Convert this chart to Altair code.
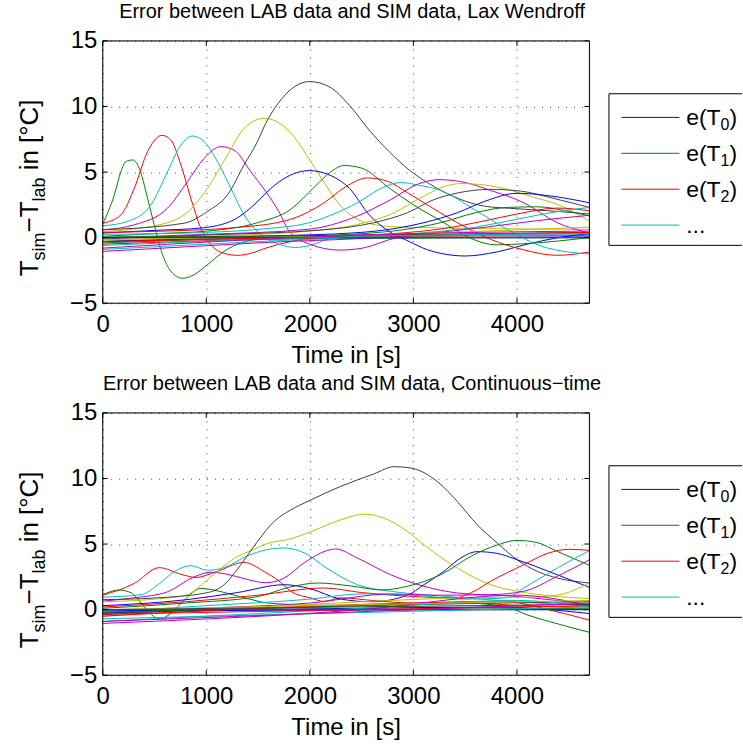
import altair as alt
import pandas as pd

W, H = 488, 263
X_TICKS = [0, 1000, 2000, 3000, 4000]
Y_TICKS = [-5, 0, 5, 10, 15]
X_MAX = 4700
COLORS = ["#0000FF", "#008000", "#FF0000", "#00BFBF", "#BF00BF", "#BFBF00", "#404040"]
FONT = "Liberation Sans"

# ---------------- Lax Wendroff panel: (time, error) knots per sensor ----------------
lw_t00 = [(0, -0.3), (1500, -0.05), (4700, 0.0)]
lw_t01 = [(0, 1.05), (112, 3.26), (176, 5.04), (225, 5.8), (289, 5.92), (353, 5.29), (433, 3.0),
          (497, 0.98), (578, -1.3), (658, -2.57), (771, -3.1), (883, -2.82), (1012, -2.06),
          (1172, -1.05), (1333, -0.4), (1494, -0.15), (2500, -0.05), (4700, 0.0)]
lw_t02 = [(0, 1.1), (176, 1.74), (305, 3.77), (433, 6.56), (572, 7.8), (658, 7.44), (755, 5.54),
          (851, 3.0), (947, 0.73), (1044, -0.54), (1172, -1.2), (1301, -1.35), (1429, -1.2),
          (1574, -0.8), (1816, -0.3), (2100, 0.0), (3000, 0.1), (4700, 0.15)]
lw_t03 = [(0, 0.9), (241, 1.24), (466, 2.5), (626, 5.04), (755, 7.06), (867, 7.75), (980, 7.32),
          (1108, 5.8), (1237, 3.77), (1365, 1.74), (1494, 0.47), (1574, -0.03), (1700, -0.5),
          (1866, -0.75), (2000, -0.6), (2188, -0.1), (2500, 0.1), (4700, 0.2)]
lw_t04 = [(0, 0.6), (305, 0.98), (626, 2.25), (819, 4.28), (980, 6.05), (1140, 6.94), (1268, 6.68),
          (1429, 5.04), (1574, 3.52), (1700, 2.0), (1802, 0.47), (2000, -0.5), (2285, -0.95),
          (2509, -0.8), (2830, -0.03), (3100, 0.2), (4700, 0.3)]
lw_t05 = [(0, 0.47), (466, 0.85), (787, 1.74), (1012, 3.77), (1205, 6.3), (1365, 8.33), (1559, 9.1),
          (1816, 8.0), (1977, 6.2), (2138, 4.2), (2299, 2.4), (2460, 1.4), (2620, 1.0), (2781, 0.84),
          (3100, 0.76), (4700, 0.63)]
lw_t06 = [(0, 0.6), (787, 1.1), (1012, 2.0), (1205, 3.26), (1365, 5.54), (1494, 7.32), (1574, 8.71),
          (1700, 10.3), (1850, 11.5), (1995, 11.9), (2188, 11.5), (2381, 10.1), (2573, 8.2),
          (2766, 6.56), (2959, 5.16), (3135, 4.2), (3428, 3.0), (3685, 2.4), (4006, 2.2),
          (4391, 2.0), (4700, 1.8)]
lw_t07 = [(0, 0.35), (500, 0.55), (947, 0.73), (1268, 1.36), (1461, 2.5), (1574, 3.39), (1750, 4.5),
          (1995, 5.11), (2188, 4.78), (2381, 3.77), (2573, 1.74), (2766, 0.47), (2959, -0.29),
          (3135, -0.92), (3504, -1.4), (3800, -1.1), (4100, -0.5), (4400, 0.0), (4700, 0.3)]
lw_t08 = [(0, 0.1), (500, 0.3), (1013, 0.5), (1495, 1.14), (1816, 2.16), (2050, 3.9), (2200, 5.0),
          (2331, 5.5), (2500, 5.3), (2781, 3.7), (3000, 2.5), (3295, 1.14), (3424, 0.5),
          (3600, -0.2), (3800, -0.55), (4100, -0.45), (4700, 0.0)]
lw_t09 = [(0, 0.4), (600, 0.5), (1334, 0.8), (1816, 1.4), (2138, 2.66), (2350, 3.9), (2556, 4.55),
          (2750, 4.3), (2942, 3.43), (3102, 2.66), (3424, 1.14), (3746, -0.13), (4050, -0.9),
          (4389, -1.35), (4700, -1.1)]
lw_t10 = [(0, 0.25), (1000, 0.4), (1600, 0.7), (1977, 1.1), (2200, 1.7), (2460, 2.66), (2700, 3.8),
          (2877, 4.2), (3050, 4.0), (3263, 3.6), (3585, 2.16), (3907, 0.63), (4228, -0.63),
          (4500, -1.1), (4700, -1.25)]
lw_t11 = [(0, 0.0), (1000, 0.25), (1977, 0.63), (2460, 1.65), (2781, 2.9), (3050, 4.1), (3247, 4.42),
          (3500, 4.2), (3746, 3.6), (4067, 2.66), (4389, 1.14), (4700, 0.35)]
lw_t12 = [(0, -0.2), (1000, 0.1), (2000, 0.5), (2460, 1.0), (2781, 1.78), (3102, 3.17), (3300, 3.9),
          (3456, 4.12), (3700, 4.0), (3907, 3.68), (4150, 3.1), (4389, 2.54), (4700, 1.27)]
lw_t13 = [(0, -0.1), (1000, 0.2), (2138, 0.6), (2620, 1.14), (2942, 1.9), (3200, 2.9), (3424, 3.4),
          (3746, 3.68), (4035, 3.55), (4350, 3.0), (4700, 2.3)]
lw_t14 = [(0, -0.3), (1500, 0.1), (2500, 0.4), (2900, 0.8), (3102, 1.14), (3424, 1.9), (3700, 2.8),
          (4003, 3.38), (4300, 3.2), (4700, 2.66)]
lw_t15 = [(0, -0.4), (1500, 0.0), (2500, 0.3), (2900, 0.6), (3263, 1.14), (3600, 1.9), (3900, 2.3),
          (4200, 2.35), (4500, 2.0), (4700, 1.65)]
lw_t16 = [(0, -0.5), (1500, -0.1), (2800, 0.3), (3300, 0.7), (3700, 1.3), (4000, 1.8), (4389, 2.25),
          (4700, 2.05)]
lw_t17 = [(0, -0.9), (1500, -0.3), (3000, 0.3), (3600, 0.8), (4000, 1.4), (4400, 2.0), (4700, 2.3)]
lw_t18 = [(0, -1.05), (1500, -0.4), (3000, 0.2), (3700, 0.8), (4200, 1.3), (4700, 1.7)]
lw_t19 = [(0, -0.15), (2500, 0.2), (4700, 0.8)]
lw_t20 = [(0, 0.0), (2500, 0.2), (4700, 0.4)]
lw_t21 = [(0, 0.0), (2500, 0.0), (4700, 0.05)]
lw_t22 = [(0, 0.05), (4700, 0.0)]
lw_t23 = [(0, -0.3), (2500, 0.1), (4700, 0.4)]
lw_t24 = [(0, -0.6), (2500, 0.1), (4700, 0.3)]
lw_t25 = [(0, -0.8), (2500, 0.2), (4700, 0.5)]

# ---------------- Continuous-time panel ----------------
ct_t00 = [(0, -0.25), (1500, -0.05), (4700, 0.0)]
ct_t01 = [(0, 1.15), (160, 1.49), (273, 1.29), (401, 0.22), (546, -0.72), (658, -0.29), (787, 0.72),
          (947, 1.62), (1076, 1.49), (1268, 1.11), (1461, 0.72), (1574, 0.52), (2000, 0.35),
          (2500, 0.3), (3000, 0.2), (3500, 0.15), (4700, 0.05)]
ct_t02 = [(0, 1.1), (305, 2.0), (546, 3.2), (755, 2.7), (900, 2.45), (1100, 2.9), (1365, 3.6),
          (1560, 2.9), (1700, 2.2), (1816, 1.4), (2000, 0.9), (2138, 0.63), (2300, 0.9),
          (2600, 0.7), (3000, 0.5), (3500, 0.6), (4000, 0.3), (4700, 0.2)]
ct_t03 = [(0, 0.95), (370, 1.14), (550, 2.0), (691, 2.9), (852, 3.35), (1012, 3.0), (1172, 3.2),
          (1397, 4.1), (1574, 4.55), (1752, 4.7), (1977, 4.2), (2138, 3.3), (2460, 1.9),
          (2781, 1.4), (3102, 1.14), (3500, 0.9), (4000, 0.6), (4700, 0.3)]
ct_t04 = [(0, 0.65), (300, 0.9), (626, 1.36), (883, 2.5), (1044, 2.85), (1200, 2.7), (1365, 2.37),
          (1574, 2.05), (1750, 2.4), (1950, 3.6), (2250, 4.62), (2460, 3.93), (2781, 2.66),
          (3102, 1.78), (3424, 1.27), (4000, 1.0), (4700, 0.4)]
ct_t05 = [(0, 0.6), (500, 0.8), (800, 1.1), (1044, 2.5), (1268, 3.9), (1461, 4.6), (1574, 5.0),
          (1816, 5.4), (1977, 5.84), (2299, 6.85), (2524, 7.28), (2717, 6.98), (2942, 5.96),
          (3102, 4.95), (3424, 3.17), (3746, 1.9), (4003, 1.4), (4389, 1.0), (4700, 0.85)]
ct_t06 = [(0, 0.76), (530, 0.9), (997, 1.27), (1173, 1.9), (1334, 3.43), (1495, 5.2), (1656, 6.73),
          (1816, 7.6), (1993, 8.3), (2299, 9.4), (2620, 10.35), (2813, 10.9), (2974, 10.8),
          (3231, 9.77), (3424, 8.25), (3617, 6.47), (3810, 5.08), (4003, 3.8), (4196, 2.92),
          (4389, 2.41), (4700, 2.03)]
ct_t07 = [(0, 0.3), (800, 0.75), (1300, 1.3), (1752, 1.9), (2000, 1.6), (2300, 0.8), (2600, 0.6),
          (2942, 1.1), (3102, 1.9), (3295, 2.92), (3450, 3.9), (3617, 4.42), (3800, 4.3),
          (4003, 3.8), (4389, 2.66), (4700, 1.7)]
ct_t08 = [(0, 0.1), (800, 0.5), (1500, 1.0), (1800, 1.7), (2074, 2.03), (2400, 1.8), (2700, 1.5),
          (2942, 1.78), (3263, 2.66), (3585, 4.19), (3800, 4.9), (4003, 5.28), (4200, 5.1),
          (4389, 4.44), (4700, 3.38)]
ct_t09 = [(0, 0.2), (800, 0.6), (1500, 1.1), (2138, 1.65), (2500, 1.3), (3000, 1.0), (3400, 0.9),
          (3585, 1.4), (3746, 2.16), (4067, 3.43), (4300, 4.3), (4500, 4.6), (4700, 4.52)]
ct_t10 = [(0, -0.2), (1000, 0.3), (2000, 0.8), (2500, 1.2), (3000, 1.1), (3500, 0.8), (3900, 0.9),
          (4067, 1.65), (4389, 3.17), (4700, 4.5)]
ct_t11 = [(0, -0.4), (1000, 0.1), (2000, 0.5), (2800, 1.2), (3200, 1.1), (3746, 1.14), (4067, 1.4),
          (4389, 2.54), (4700, 3.8)]
ct_t12 = [(0, -0.5), (1500, 0.2), (2500, 0.6), (3500, 0.9), (4100, 0.95), (4389, 1.1), (4700, 2.05)]
ct_t13 = [(0, -0.3), (2500, 0.3), (4700, 0.6)]
ct_t14 = [(0, -0.1), (2500, 0.1), (3800, 0.2), (4700, -0.3)]
ct_t15 = [(0, -0.2), (2000, 0.2), (3500, 0.5), (3900, 0.2), (4100, -0.4), (4400, -1.1), (4700, -1.73)]
ct_t16 = [(0, -0.5), (2500, 0.4), (3900, 0.6), (4300, 0.0), (4700, -0.8)]
ct_t17 = [(0, -0.9), (2500, 0.1), (4000, 0.7), (4700, 0.2)]
ct_t18 = [(0, -1.05), (2500, 0.0), (4000, 1.1), (4700, 0.3)]
ct_t19 = [(0, 0.0), (4700, 0.7)]
ct_t20 = [(0, 0.0), (4700, 0.4)]
ct_t21 = [(0, 0.0), (4700, 0.0)]
ct_t22 = [(0, 0.0), (4700, 0.05)]
ct_t23 = [(0, -0.35), (4700, 0.3)]
ct_t24 = [(0, -0.7), (4700, 0.2)]
ct_t25 = [(0, -0.9), (4700, 0.5)]

LW = [lw_t00, lw_t01, lw_t02, lw_t03, lw_t04, lw_t05, lw_t06, lw_t07, lw_t08, lw_t09, lw_t10,
      lw_t11, lw_t12, lw_t13, lw_t14, lw_t15, lw_t16, lw_t17, lw_t18, lw_t19, lw_t20, lw_t21,
      lw_t22, lw_t23, lw_t24, lw_t25]
CT = [ct_t00, ct_t01, ct_t02, ct_t03, ct_t04, ct_t05, ct_t06, ct_t07, ct_t08, ct_t09, ct_t10,
      ct_t11, ct_t12, ct_t13, ct_t14, ct_t15, ct_t16, ct_t17, ct_t18, ct_t19, ct_t20, ct_t21,
      ct_t22, ct_t23, ct_t24, ct_t25]

LEGEND_LABELS = ["0", "1", "2"]
LEGEND_COLORS = COLORS[:4]


def frame_of(series):
    rows = []
    for i, s in enumerate(series):
        for x, y in s:
            rows.append({"series": f"T{i:02d}", "x": x, "y": y})
    return pd.DataFrame(rows)


def txt(s, x, y, size, angle=0, align="left", baseline="alphabetic"):
    kw = dict(font=FONT, fontSize=size, align=align, baseline=baseline, color="black")
    if angle:
        kw["angle"] = angle
    return alt.Chart(alt.Data(values=[{}])).mark_text(**kw).encode(
        x=alt.value(x), y=alt.value(y), text=alt.value(s))


def panel(series, title, bottom_extent):
    df = frame_of(series)
    names = sorted(df["series"].unique())
    rng = [COLORS[i % 7] for i in range(len(names))]
    xs = alt.Scale(domain=[0, X_MAX], nice=False, zero=False)
    ys = alt.Scale(domain=[-5, 15], nice=False, zero=False)

    # invisible frame fixing the panel bounds
    frame = alt.Chart(alt.Data(values=[{}])).mark_rect(opacity=0).encode(
        x=alt.value(-101.7), x2=alt.value(641), y=alt.value(-38.3), y2=alt.value(bottom_extent))

    lines = alt.Chart(df).mark_line(strokeWidth=1, interpolate="monotone").encode(
        x=alt.X("x:Q", scale=xs, title=None,
                axis=alt.Axis(values=X_TICKS, format="d", grid=True, ticks=False, domain=False,
                              labelFontSize=24, labelFont=FONT, labelColor="black",
                              labelPadding=9, labelFlush=False, labelOverlap=False,
                              gridColor="#444", gridDash=[1, 7], gridWidth=1)),
        y=alt.Y("y:Q", scale=ys, title=None,
                axis=alt.Axis(values=Y_TICKS, format="d", grid=True, ticks=False, domain=False,
                              labelFontSize=24, labelFont=FONT, labelColor="black",
                              labelPadding=6, labelFlush=False, labelOverlap=False,
                              gridColor="#444", gridDash=[1, 7], gridWidth=1)),
        color=alt.Color("series:N", scale=alt.Scale(domain=names, range=rng), legend=None),
    )

    xt = pd.DataFrame({"t": X_TICKS})
    yt = pd.DataFrame({"t": Y_TICKS})
    tb = alt.Chart(xt).mark_rule(color="black", strokeWidth=1).encode(
        x=alt.X("t:Q", scale=xs), y=alt.value(H), y2=alt.value(H - 5))
    tt = alt.Chart(xt).mark_rule(color="black", strokeWidth=1).encode(
        x=alt.X("t:Q", scale=xs), y=alt.value(0), y2=alt.value(5))
    tl = alt.Chart(yt).mark_rule(color="black", strokeWidth=1).encode(
        y=alt.Y("t:Q", scale=ys), x=alt.value(0), x2=alt.value(5))
    tr = alt.Chart(yt).mark_rule(color="black", strokeWidth=1).encode(
        y=alt.Y("t:Q", scale=ys), x=alt.value(W), x2=alt.value(W - 5))

    border = alt.Chart(alt.Data(values=[{}])).mark_rect(
        filled=False, stroke="black", strokeWidth=1).encode(
        x=alt.value(0), x2=alt.value(W), y=alt.value(0), y2=alt.value(H))

    layers = [frame, lines, tb, tt, tl, tr, border,
              txt(title, 250, -23, 20, align="center"),
              txt("Time in [s]", 244, 323, 24, align="center")]

    # y axis title with subscripts (rotated)
    bx, sx = -64.7, -58.2
    y0 = 236
    parts = [("T", bx, 26, 15.9), ("sim", sx, 18, 28.0), ("\u2212T", bx, 26, 31.1),
             ("lab", sx, 18, 24.0 + 7.2), ("in [\u00b0C]", bx, 26, 71.1)]
    yy = y0
    for s, xx, size, w in parts:
        layers.append(txt(s, xx, yy, size, angle=270))
        yy -= w

    # legend box (right edge falls at the picture's edge)
    lx0, ly0, ly1, lx1 = 507.6, 53, 205, 641
    for enc in [dict(x=alt.value(lx0), x2=alt.value(lx1), y=alt.value(ly0)),
                dict(x=alt.value(lx0), x2=alt.value(lx1), y=alt.value(ly1)),
                dict(x=alt.value(lx0), y=alt.value(ly0), y2=alt.value(ly1))]:
        layers.append(alt.Chart(alt.Data(values=[{}])).mark_rule(
            color="black", strokeWidth=1).encode(**enc))
    step = 36
    for i, col in enumerate(LEGEND_COLORS):
        ly = 76.7 + i * step
        layers.append(alt.Chart(alt.Data(values=[{}])).mark_rule(color=col, strokeWidth=1).encode(
            x=alt.value(520), x2=alt.value(578.3), y=alt.value(ly)))
        if i < 3:
            layers.append(txt("e(T", 585, ly + 8, 23))
            layers.append(txt(LEGEND_LABELS[i], 619.5, ly + 13, 16))
            layers.append(txt(")", 628.5, ly + 8, 23))
        else:
            layers.append(txt("...", 585, ly + 8, 23))

    return alt.layer(*layers).properties(width=W, height=H)


top = panel(LW, "Error between LAB data and SIM data, Lax Wendroff", 331.7)
bottom = panel(CT, "Error between LAB data and SIM data, Continuous\u2212time", 336.7)

chart = alt.vconcat(top, bottom, spacing=0).properties(
    padding=0, autosize=alt.AutoSizeParams(type="pad")
).configure_view(stroke=None).configure(background="white")

chart.save("out.html", embed_options={"renderer": "svg", "actions": False})
